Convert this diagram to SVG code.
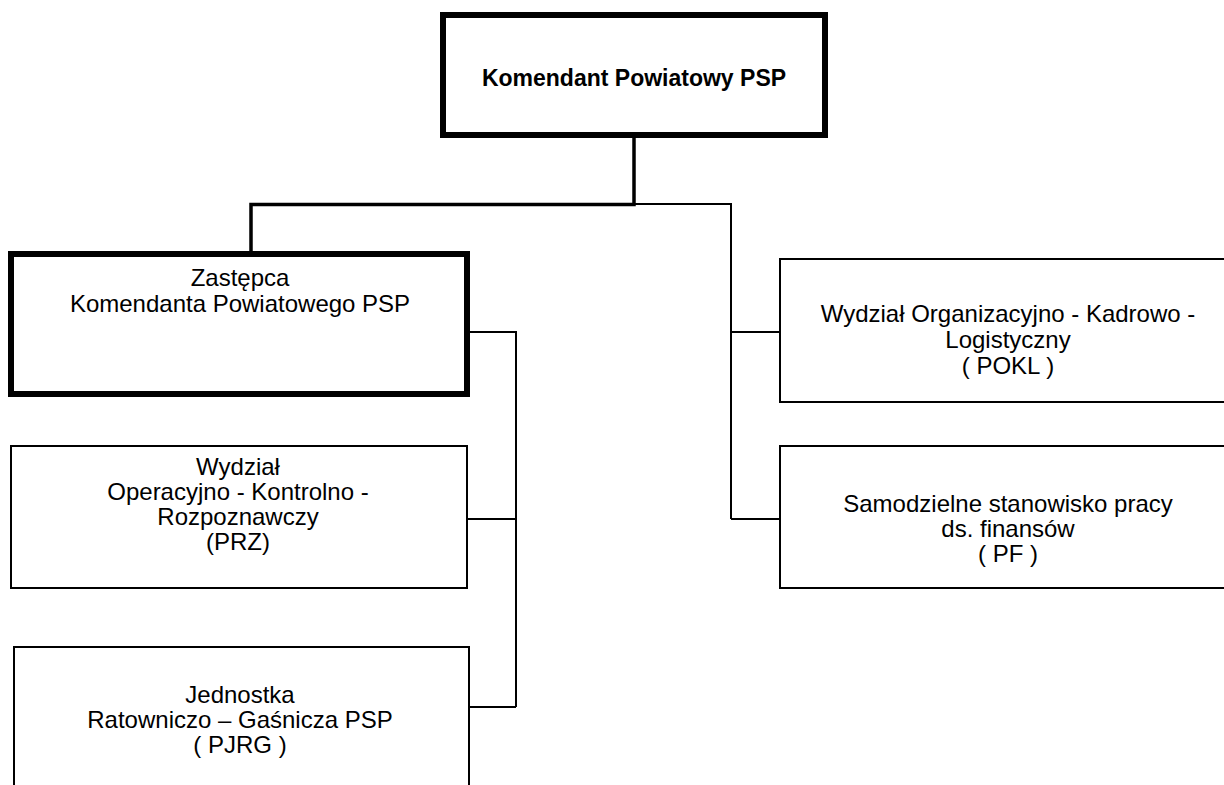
<svg xmlns="http://www.w3.org/2000/svg" width="1224" height="785" viewBox="0 0 1224 785">
<style>
.box{fill:#fff;stroke:#000;stroke-width:2}
.thick{fill:#fff;stroke:#000;stroke-width:6}
.t{font-family:"Liberation Sans",Arial,sans-serif;font-size:24px;fill:#000;text-anchor:middle}
.b{font-weight:bold;font-size:23px}
.c{fill:none;stroke:#000;stroke-width:2}
.ck{fill:none;stroke:#000;stroke-width:3.5}
</style>
<rect width="1224" height="785" fill="#fff"/>
<g id="connectors">
<path class="ck" d="M634,138 V204.5 H251 V251"/>
<path class="c" d="M634,204 H731 V519"/>
<path class="c" d="M731,332 H780"/>
<path class="c" d="M731,519 H780"/>
<path class="c" d="M470,332 H516 V707"/>
<path class="c" d="M467,519 H516"/>
<path class="c" d="M470,707 H516"/>
</g>
<g id="komendant">
<rect class="thick" x="443" y="15" width="382" height="120"/>
<text class="t b" x="634" y="86">Komendant Powiatowy PSP</text>
</g>
<g id="zastepca">
<rect class="thick" x="11" y="254" width="456" height="140"/>
<text class="t" x="240" y="286">Zastępca</text>
<text class="t" x="240" y="312">Komendanta Powiatowego PSP</text>
</g>
<g id="prz">
<rect class="box" x="11" y="446" width="456" height="142"/>
<text class="t" x="238" y="475">Wydział</text>
<text class="t" x="238" y="500">Operacyjno - Kontrolno -</text>
<text class="t" x="238" y="525">Rozpoznawczy</text>
<text class="t" x="238" y="550">(PRZ)</text>
</g>
<g id="pjrg">
<rect class="box" x="14" y="647" width="455" height="160"/>
<text class="t" x="240" y="703">Jednostka</text>
<text class="t" x="240" y="728">Ratowniczo – Gaśnicza PSP</text>
<text class="t" x="240" y="753">( PJRG )</text>
</g>
<g id="pokl">
<rect class="box" x="780" y="259" width="462" height="143"/>
<text class="t" x="1008" y="322">Wydział Organizacyjno - Kadrowo -</text>
<text class="t" x="1008" y="348">Logistyczny</text>
<text class="t" x="1008" y="374">( POKL )</text>
</g>
<g id="pf">
<rect class="box" x="780" y="446" width="462" height="142"/>
<text class="t" x="1008" y="512">Samodzielne stanowisko pracy</text>
<text class="t" x="1008" y="537">ds. finansów</text>
<text class="t" x="1008" y="562">( PF )</text>
</g>
</svg>
